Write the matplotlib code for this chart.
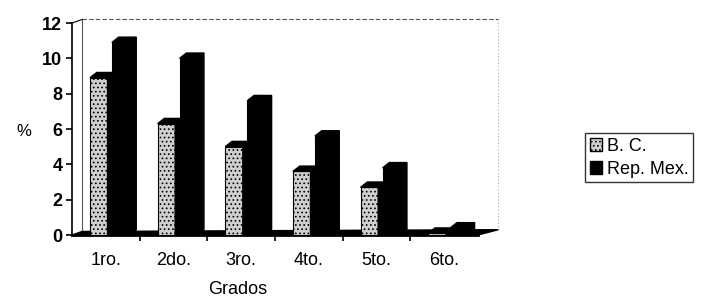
import numpy as np
import matplotlib.pyplot as plt
from matplotlib.patches import Patch

plt.rcParams['font.family'] = ['Liberation Sans', 'DejaVu Sans']

grados = ['1ro.', '2do.', '3ro.', '4to.', '5to.', '6to.']
bc = [8.9, 6.3, 5.0, 3.6, 2.7, 0.1]
rep_mex = [10.9, 10.0, 7.6, 5.6, 3.8, 0.4]

W = 0.26      # bar width
DX = 0.1      # 3d depth offsets
DY = 0.3

fig = plt.figure(figsize=(7.12, 3.08), dpi=100)
ax = fig.add_axes([72/712, 1 - 235/308, (478 - 72)/712, (235 - 23)/308])

x = np.arange(len(grados))


def bar3d(x0, h, face, hatch=None):
    ax.bar(x0, h, width=W, align='edge', color=face, edgecolor='black',
           linewidth=0.8, hatch=hatch, zorder=3)
    # top face
    ax.fill([x0, x0 + W, x0 + W + DX, x0 + DX], [h, h, h + DY, h + DY],
            color='black', zorder=3)
    # side face
    ax.fill([x0 + W, x0 + W + DX, x0 + W + DX, x0 + W], [0, DY, h + DY, h],
            color='black', zorder=3)


plt.rcParams['hatch.color'] = '#666666'
plt.rcParams['hatch.linewidth'] = 0.7
for i in x:
    bar3d(i - 0.235, bc[i], '#cfcfcf', hatch='....')
    bar3d(i + 0.09, rep_mex[i], 'black')

# back wall and floor
ax.plot([-0.35, 5.8], [12.2, 12.2], color='#555555', lw=0.8, ls=(0, (4, 2)), clip_on=False)
ax.plot([5.8, 5.8], [0.3, 12.2], color='#777777', lw=0.6, ls=(0, (1, 3)), clip_on=False)
ax.plot([-0.35, -0.35], [0.2, 12.2], color='#555555', lw=0.8, clip_on=False)
ax.plot([-0.5, -0.35], [12, 12.2], color='black', lw=0.8, clip_on=False)
ax.fill([-0.5, 5.5, 5.8, -0.35], [0, 0, 0.3, 0.2], color='black', zorder=2, clip_on=False)

ax.set_xlim(-0.5, 5.5)
ax.set_ylim(0, 12)
ax.set_yticks(range(0, 13, 2))
ax.set_yticklabels([str(v) for v in range(0, 13, 2)], fontsize=13, fontweight='bold')
ax.set_xticks(x)
ax.set_xticklabels(grados, fontsize=13)
ax.set_xticks(x[:-1] + 0.5, minor=True)
ax.tick_params(axis='x', which='major', length=0, pad=12)
ax.tick_params(axis='x', which='minor', length=4, width=1.2, direction='out')
ax.tick_params(axis='y', length=4, width=1.2, pad=3)
for s in ['top', 'right']:
    ax.spines[s].set_visible(False)
ax.spines['left'].set_linewidth(1.2)
ax.spines['bottom'].set_linewidth(2)

fig.text(24/712, 1 - 131/308, '%', fontsize=12, ha='center', va='center')
fig.text(238/712, 1 - 290/308, 'Grados', fontsize=13, ha='center', va='center')

handles = [Patch(facecolor='#cfcfcf', edgecolor='black', hatch='....'),
           Patch(facecolor='black', edgecolor='black')]
leg = fig.legend(handles, ['B. C.', 'Rep. Mex.'], loc='upper left',
                 bbox_to_anchor=(585/712, 1 - 133/308), fontsize=13,
                 frameon=True, fancybox=False, edgecolor='black',
                 handlelength=0.7, handleheight=0.7, handletextpad=0.25,
                 borderpad=0.25, labelspacing=0.35, borderaxespad=0)
leg.get_frame().set_linewidth(1)

fig.savefig('out.png', dpi=100)
